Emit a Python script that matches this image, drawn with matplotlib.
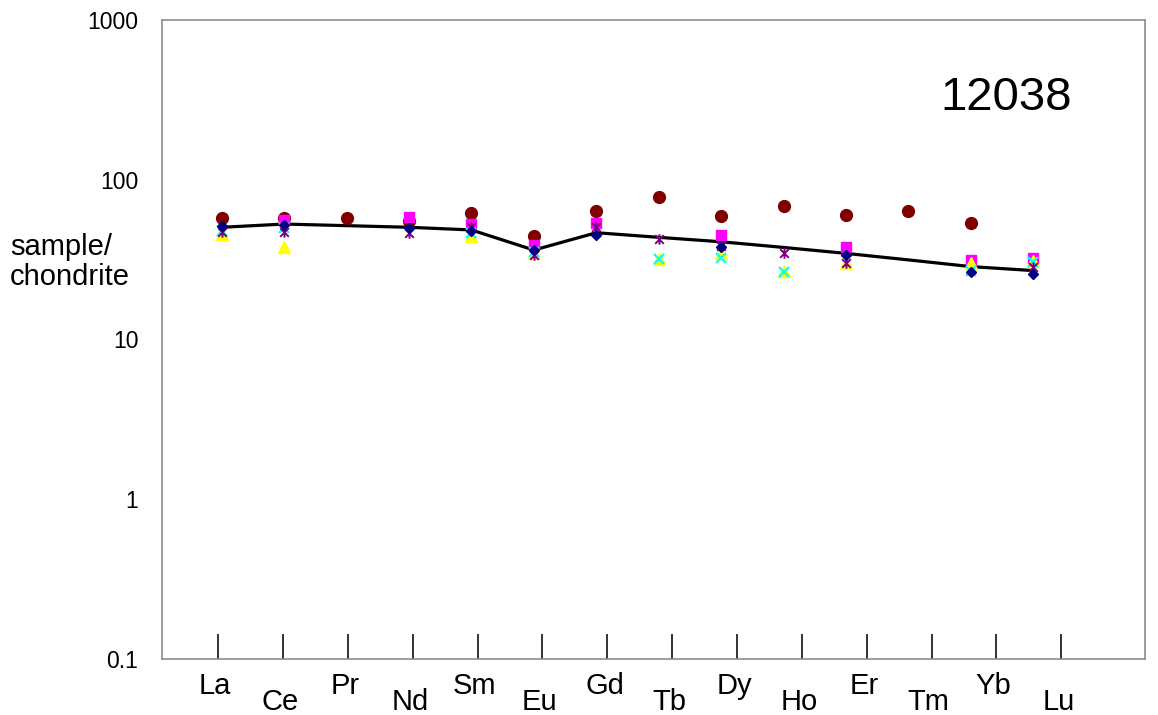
"""REE chondrite-normalised spider plot for sample 12038."""

import matplotlib
matplotlib.use("Agg")
import matplotlib.pyplot as plt
import numpy as np
from matplotlib.path import Path

plt.rcParams["font.family"] = ["Liberation Sans", "DejaVu Sans"]

ELEMENTS = ["La", "Ce", "Pr", "Nd", "Sm", "Eu", "Gd",
            "Tb", "Dy", "Ho", "Er", "Tm", "Yb", "Lu"]
nan = np.nan

# analyses (sample/chondrite), one list per spot
s_diamond = [51.0, 52.1, nan, 49.7, 48.0, 36.3, 45.1, nan, 38.1, nan, 33.8, nan, 26.5, 25.8]
s_square = [nan, 56.0, nan, 58.7, 52.8, 39.0, 53.4, nan, 45.1, nan, 37.8, nan, 31.5, 32.5]
s_triangle = [45.5, 38.1, nan, nan, 44.4, 35.0, nan, 32.0, 34.9, 27.0, 30.3, nan, 30.0, 31.0]
s_cross = [47.5, 49.7, nan, nan, 46.2, 35.4, nan, 31.8, 32.2, 26.5, nan, nan, 27.0, 30.7]
s_star = [47.3, 47.3, nan, 46.6, 50.8, 33.8, 50.8, 42.6, 38.5, 34.9, 30.3, nan, nan, 28.6]
s_circle = [58.0, 58.0, 57.4, 55.4, 62.2, 44.6, 64.0, 77.6, 59.6, 68.5, 60.2, 64.0, 53.8, nan]
mean_line = [50.4, 52.8, 51.6, 50.4, 48.5, 36.3, 46.6, 43.6, 40.9, 37.7, 34.6, 31.5, 28.6, 27.0]

W, H = 1158, 715
fig = plt.figure(figsize=(W / 100, H / 100), dpi=100)
ax = fig.add_axes([162 / W, 1 - 659 / H, (1145 - 162) / W, (659 - 20) / H])

# category axis used for ticks / labels only
ax.set_yscale("log")
ax.set_ylim(0.1, 1000)
ax.set_xlim(0.136, 15.29)
ax.set_xticks(np.arange(1, len(ELEMENTS) + 1))
ax.set_xticklabels([])
ax.tick_params(axis="x", direction="in", length=18, width=1.3, color="#222222")
ax.set_yticks([0.1, 1, 10, 100, 1000])
ax.set_yticklabels(["0.1", "1", "10", "100", "1000"])
ax.yaxis.set_minor_locator(matplotlib.ticker.NullLocator())
ax.tick_params(axis="y", length=0, pad=17, labelsize=16.5)
for sp in ax.spines.values():
    sp.set_color("#8c8c8c")
    sp.set_linewidth(1.2)

for i, name in enumerate(ELEMENTS):
    off = -13 if i % 2 == 0 else -29
    ax.annotate(name, xy=(i + 1, 0), xycoords=("data", "axes fraction"),
                xytext=(-2, off * 0.72), textcoords="offset points",
                ha="center", va="top", fontsize=21)

# data axis (points were plotted on their own x scale)
ax2 = ax.twiny()
ax2.set_xlim(-0.957, 14.79)
ax2.set_xticks([])
for sp in ax2.spines.values():
    sp.set_visible(False)

x = np.arange(len(ELEMENTS))
star = Path([(-1, -1), (1, 1), (-1, 1), (1, -1), (0, -1.2), (0, 1.2)],
            [Path.MOVETO, Path.LINETO, Path.MOVETO, Path.LINETO, Path.MOVETO, Path.LINETO])

ax2.plot(x, mean_line, color="black", linewidth=2.3, zorder=2)
ax2.plot(x, s_circle, "o", color="#800000", markersize=8.5, zorder=3)
ax2.plot(x, s_square, "s", color="#ff00ff", markersize=7.5, zorder=3)
ax2.plot(x, s_triangle, "^", color="#ffff00", markersize=8, zorder=3)
ax2.plot(x, s_cross, "x", color="#00ffff", markersize=7, markeredgewidth=1.6, zorder=3)
ax2.plot(x, s_star, linestyle="none", marker=star, color="#800080",
         markersize=7.5, markeredgewidth=1.4, zorder=3)
ax2.plot(x, s_diamond, "D", color="#000080", markersize=5.5, zorder=3)

fig.text(1006 / W, 1 - 98 / H, "12038", ha="center", va="center", fontsize=34)
fig.text(10 / W, 1 - 262 / H, "sample/\nchondrite", ha="left", va="center",
         fontsize=21, linespacing=1.05)

fig.savefig("out.png", dpi=100)
